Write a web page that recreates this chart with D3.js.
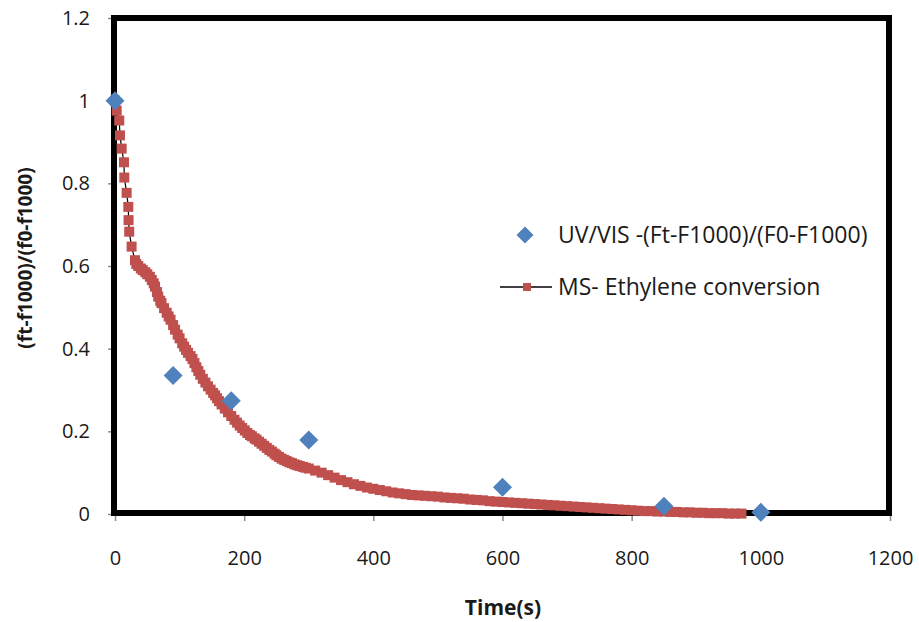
<!DOCTYPE html>
<html>
<head>
<meta charset="utf-8">
<script src="https://cdn.jsdelivr.net/npm/d3@7"></script>
<style>
  body { margin: 0; background: #fff; }
  text { font-family: "Open Sans", sans-serif; fill: #1a1a1a; }
</style>
</head>
<body>
<svg id="chart" width="919" height="622"></svg>
<script>
// UV/VIS points
var uvTime  = [0, 90, 180, 300, 600, 850, 1000];
var uvValue = [1.0, 0.335, 0.274, 0.179, 0.065, 0.019, 0.004];

// MS ethylene conversion
var msTime = [0, 2.6, 6.6, 7.7, 10.3, 13.9, 14.4, 18, 20.6, 21, 22, 25.7, 30.9, 33, 36, 40, 43, 47, 50, 54,
  57, 60, 62, 65, 67, 70, 72, 76, 80, 83, 86, 90, 93, 97, 100, 104, 107, 110, 113, 117,
  120, 123, 126, 129, 132, 136, 140, 144, 148, 152, 155, 158, 161, 165, 170, 175, 180, 185, 189, 193,
  197, 201, 205, 209, 212, 216, 219, 223, 227, 231, 235, 239, 243, 247, 250, 254, 258, 262, 266, 270,
  274, 278, 282, 286, 291, 295, 300, 310, 320, 330, 340, 350, 360, 370, 380, 390, 400,
  410, 420, 430, 440, 450, 460, 470, 480, 490, 500, 510, 520, 530, 540, 550, 560, 570, 580, 590, 600,
  610, 620, 630, 640, 650, 660, 670, 680, 690, 700, 710, 720, 730, 740, 750, 760, 770, 780, 790, 800,
  810, 820, 830, 840, 850, 860, 870, 880, 890, 900, 910, 920, 930, 940, 950, 960, 970];
var msValue = [1.0, 0.976, 0.952, 0.916, 0.884, 0.851, 0.814, 0.777, 0.743, 0.711, 0.683, 0.647, 0.614, 0.605, 0.600, 0.594, 0.590, 0.585, 0.580, 0.574,
  0.566, 0.558, 0.550, 0.537, 0.526, 0.516, 0.510, 0.498, 0.487, 0.478, 0.470, 0.457, 0.446, 0.434, 0.425, 0.413, 0.405, 0.397, 0.390, 0.382,
  0.375, 0.365, 0.355, 0.346, 0.337, 0.327, 0.318, 0.309, 0.301, 0.293, 0.287, 0.280, 0.273, 0.265, 0.255, 0.246, 0.237, 0.228, 0.221, 0.214,
  0.208, 0.202, 0.196, 0.191, 0.188, 0.183, 0.180, 0.175, 0.170, 0.165, 0.160, 0.155, 0.151, 0.146, 0.142, 0.138, 0.134, 0.131, 0.128, 0.125,
  0.123, 0.120, 0.118, 0.116, 0.114, 0.112, 0.110, 0.105, 0.100, 0.094, 0.088, 0.082, 0.077, 0.072, 0.068, 0.064, 0.061,
  0.058, 0.055, 0.052, 0.050, 0.048, 0.046, 0.045, 0.044, 0.043, 0.042, 0.040, 0.039, 0.038, 0.037, 0.035, 0.034, 0.033, 0.031, 0.030, 0.029,
  0.028, 0.027, 0.026, 0.025, 0.024, 0.023, 0.022, 0.021, 0.020, 0.019, 0.018, 0.017, 0.016, 0.015, 0.014, 0.013, 0.012, 0.011, 0.010, 0.009,
  0.008, 0.007, 0.007, 0.006, 0.006, 0.005, 0.005, 0.004, 0.004, 0.003, 0.003, 0.002, 0.002, 0.002, 0.001, 0.001, 0.001];

var xTicks = [0, 200, 400, 600, 800, 1000, 1200];
var yTicks = [0, 0.2, 0.4, 0.6, 0.8, 1, 1.2];
var legendLabels = ["UV/VIS -(Ft-F1000)/(F0-F1000)", "MS- Ethylene conversion"];

var blue = "#4F81BD", red = "#C0504D";

var svg = d3.select("#chart");
svg.append("rect").attr("width", 919).attr("height", 622).attr("fill", "#fff");

var x = d3.scaleLinear().domain([0, 1200]).range([115, 890]);
var y = d3.scaleLinear().domain([0, 1.2]).range([514, 18]);

// axes (ticks + labels), Excel style
var xAxis = svg.append("g").attr("transform", "translate(0,514)")
  .call(d3.axisBottom(x).tickValues(xTicks).tickSize(7).tickPadding(30).tickFormat(d3.format("d")));
var yAxis = svg.append("g").attr("transform", "translate(115,0)")
  .call(d3.axisLeft(y).tickValues(yTicks).tickSize(7).tickPadding(18).tickFormat(function(d) { return d3.format("")(d); }));

[xAxis, yAxis].forEach(function(a) {
  a.select(".domain").remove();
  a.selectAll(".tick line").attr("stroke", "#8c8c8c").attr("stroke-width", 1.5);
  a.selectAll(".tick text").style("font-size", "20px").attr("fill", "#1a1a1a");
});

// plot frame
svg.append("rect")
  .attr("x", x(0) - 1).attr("y", y(1.2))
  .attr("width", x(1200) - x(0)).attr("height", y(0) - y(1.2) - 1)
  .attr("fill", "none").attr("stroke", "#000").attr("stroke-width", 6);

// MS series
var msData = msTime.map(function(t, i) { return [t, msValue[i]]; });
svg.append("path")
  .datum(msData)
  .attr("fill", "none").attr("stroke", "#000").attr("stroke-width", 1.2)
  .attr("d", d3.line().x(function(d) { return x(d[0]); }).y(function(d) { return y(d[1]); }));

svg.append("g").selectAll("rect")
  .data(msData)
  .join("rect")
  .attr("x", function(d) { return x(d[0]) - 5; })
  .attr("y", function(d) { return y(d[1]) - 5; })
  .attr("width", 10).attr("height", 10)
  .attr("fill", red);

// UV/VIS series
var diamond = function(r) { return "M0," + (-r) + "L" + r + ",0L0," + r + "L" + (-r) + ",0Z"; };
svg.append("g").selectAll("path")
  .data(uvTime.map(function(t, i) { return [t, uvValue[i]]; }))
  .join("path")
  .attr("transform", function(d) { return "translate(" + x(d[0]) + "," + y(d[1]) + ")"; })
  .attr("d", diamond(9.5))
  .attr("fill", blue);

// legend
var lg = svg.append("g");
lg.append("path").attr("transform", "translate(525,235)").attr("d", diamond(8.5)).attr("fill", blue);
lg.append("line").attr("x1", 500).attr("x2", 552).attr("y1", 287).attr("y2", 287)
  .attr("stroke", "#000").attr("stroke-width", 1.5);
lg.append("rect").attr("x", 523).attr("y", 283).attr("width", 8).attr("height", 8).attr("fill", red);
lg.selectAll("text.lbl")
  .data(legendLabels)
  .join("text")
  .attr("class", "lbl")
  .attr("x", 558)
  .attr("y", function(d, i) { return 243 + i * 52; })
  .style("font-size", "23px")
  .text(function(d) { return d; });

// axis titles
svg.append("text")
  .attr("x", 503).attr("y", 615)
  .attr("text-anchor", "middle")
  .style("font-size", "21px").style("font-weight", "bold")
  .text("Time(s)");

svg.append("text")
  .attr("transform", "translate(32,258) rotate(-90)")
  .attr("text-anchor", "middle")
  .style("font-size", "19px").style("font-weight", "bold")
  .text("(ft-f1000)/(f0-f1000)");
</script>
</body>
</html>
